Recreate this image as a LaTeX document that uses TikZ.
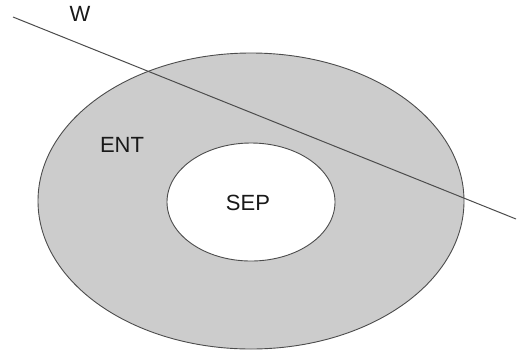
\documentclass[tikz,border=0pt]{standalone}
\usepackage{fontspec}
\setmainfont{Liberation Sans}
\begin{document}
\begin{tikzpicture}[x=1pt,y=-1pt,
  ring/.style={draw=black!70,line width=0.9pt},
  lbl/.style={font=\fontsize{22}{25}\selectfont,text=black!90,inner sep=0pt}]
\useasboundingbox (0,0) rectangle (518,354);
\fill[black!20] (251,201) ellipse [x radius=213,y radius=148];
\draw[ring] (251,201) ellipse [x radius=213,y radius=148];
\draw[ring,fill=white] (251,202) ellipse [x radius=84,y radius=59];
\coordinate (w1) at (13,17);
\coordinate (w2) at (516,219);
\draw[black!70,line width=1pt] (w1) -- (w2);
\node[lbl] (W) at (80,14) {W};
\node[lbl] (ENT) at (122,145) {ENT};
\node[lbl] (SEP) at (248,203) {SEP};
\end{tikzpicture}
\end{document}
